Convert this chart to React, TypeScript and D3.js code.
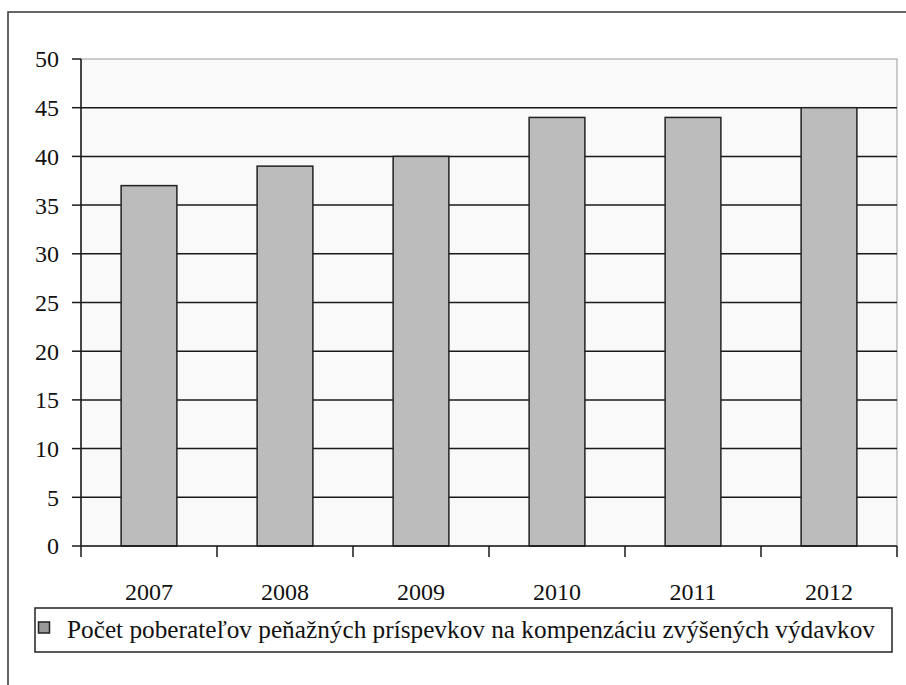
import React from "react";
import * as d3 from "d3";

const years = ["2007", "2008", "2009", "2010", "2011", "2012"];
const recipients = [37, 39, 40, 44, 44, 45];
const yTicks = [0, 5, 10, 15, 20, 25, 30, 35, 40, 45, 50];
const legendLabel =
  "Počet poberateľov peňažných príspevkov na kompenzáciu zvýšených výdavkov";

const W = 906;
const H = 685;
const plot = { left: 81, right: 897, top: 59, bottom: 546 };
const font =
  "'Liberation Serif', 'Times New Roman', Times, 'Noto Serif', FreeSerif, 'DejaVu Serif', serif";

export default function App() {
  const x = d3
    .scaleBand<string>()
    .domain(years)
    .range([plot.left, plot.right])
    .paddingInner(0.59)
    .paddingOuter(0.295);
  const y = d3.scaleLinear().domain([0, 50]).range([plot.bottom, plot.top]);
  const step = x.step();
  const boundaries = d3.range(years.length + 1).map((i) => plot.left + i * step);
  const txt = { fontFamily: font };

  return (
    <svg
      width={W}
      height={H}
      style={{ position: "absolute", left: 0, top: 0, background: "#fff" }}
    >
      {/* outer frame (cropped on right/bottom) */}
      <rect x={8} y={12} width={W + 20} height={H + 20} fill="none" stroke="#333" strokeWidth={1.5} />

      {/* plot background */}
      <rect
        x={plot.left}
        y={plot.top}
        width={plot.right - plot.left}
        height={plot.bottom - plot.top}
        fill="#f9f9f9"
        stroke="#9a9a9a"
        strokeWidth={1}
      />

      {/* grid lines */}
      {yTicks
        .filter((t) => t > 0 && t < 50)
        .map((t) => (
          <line key={t} x1={plot.left} x2={plot.right} y1={y(t)} y2={y(t)} stroke="#1a1a1a" strokeWidth={1.5} />
        ))}

      {/* bars */}
      {years.map((yr, i) => (
        <rect
          key={yr}
          x={x(yr)}
          y={y(recipients[i])}
          width={x.bandwidth()}
          height={plot.bottom - y(recipients[i])}
          fill="#bcbcbc"
          stroke="#222"
          strokeWidth={1.5}
        />
      ))}

      {/* y axis */}
      <line x1={plot.left} x2={plot.left} y1={plot.top} y2={plot.bottom} stroke="#1a1a1a" strokeWidth={1.5} />
      {yTicks.map((t) => (
        <g key={t}>
          <line x1={72} x2={plot.left} y1={y(t)} y2={y(t)} stroke="#1a1a1a" strokeWidth={1.5} />
          <text x={59} y={y(t)} dy="0.35em" textAnchor="end" fontSize={24} fill="#111" style={txt}>
            {t}
          </text>
        </g>
      ))}

      {/* x axis */}
      <line x1={plot.left} x2={plot.right} y1={plot.bottom} y2={plot.bottom} stroke="#1a1a1a" strokeWidth={1.5} />
      {boundaries.map((b, i) => (
        <line key={i} x1={b} x2={b} y1={plot.bottom} y2={plot.bottom + 11} stroke="#1a1a1a" strokeWidth={1.5} />
      ))}
      {years.map((yr) => (
        <text key={yr} x={x(yr)! + x.bandwidth() / 2} y={600} textAnchor="middle" fontSize={24} fill="#111" style={txt}>
          {yr}
        </text>
      ))}

      {/* legend */}
      <rect x={35} y={608} width={857} height={44} fill="#fff" stroke="#222" strokeWidth={1.5} />
      <rect x={38.5} y={622} width={11} height={11} fill="#999" stroke="#222" strokeWidth={1.5} />
      <text x={67} y={638} fontSize={25} fill="#111" style={txt} textLength={808} lengthAdjust="spacingAndGlyphs">
        {legendLabel}
      </text>
    </svg>
  );
}
